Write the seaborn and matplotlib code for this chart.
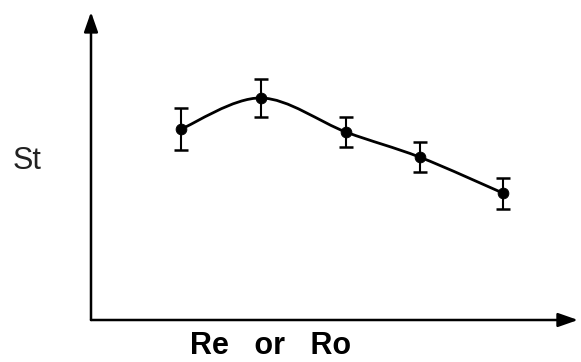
import numpy as np
import pandas as pd
import seaborn as sns
import matplotlib.pyplot as plt
from matplotlib.path import Path
from matplotlib.patches import PathPatch

# values (arbitrary units, axes run 0..10)
re_or_ro = [1.85, 3.49, 5.24, 6.75, 8.46]
st = [6.26, 7.28, 6.16, 5.34, 4.16]
st_err = [0.70, 0.61, 0.49, 0.49, 0.51]


def smooth_path(xs, ys):
    # Catmull-Rom through the points, drawn as cubic Bezier segments
    pts = np.column_stack([xs, ys])
    padded = np.vstack([pts[0], pts, pts[-1]])
    verts = [pts[0]]
    codes = [Path.MOVETO]
    for i in range(1, len(padded) - 2):
        p0, p1, p2, p3 = padded[i - 1], padded[i], padded[i + 1], padded[i + 2]
        verts += [p1 + (p2 - p0) / 6, p2 - (p3 - p1) / 6, p2]
        codes += [Path.CURVE4] * 3
    return Path(verts, codes)


def plot_st_chart():
    sns.set_theme(style="white")
    plt.rcParams['font.family'] = ['Liberation Sans', 'DejaVu Sans']

    df = pd.DataFrame({'x': re_or_ro, 'St': st, 'err': st_err})

    fig = plt.figure(figsize=(5.81, 3.62), dpi=100)
    ax = fig.add_axes([91 / 581, 42 / 362, 487 / 581, 305 / 362])

    ax.add_patch(PathPatch(smooth_path(df['x'], df['St']), fill=False,
                           edgecolor='black', lw=2.0))
    ax.errorbar(df['x'], df['St'], yerr=df['err'], fmt='none',
                ecolor='black', elinewidth=1.5, capsize=5, capthick=1.8)
    sns.scatterplot(data=df, x='x', y='St', ax=ax, color='black', s=60,
                    edgecolor='black', zorder=5)

    ax.set_xlim(0, 10)
    ax.set_ylim(0, 10)
    for s in ax.spines.values():
        s.set_visible(False)
    ax.set_xticks([])
    ax.set_yticks([])
    ax.set_xlabel('')
    ax.set_ylabel('')

    # axis arrows
    arrow = dict(arrowstyle='-|>,head_length=1.0,head_width=0.35',
                 color='black', lw=1.8, shrinkA=0, shrinkB=0)
    ax.annotate('', xy=(0, 1.01), xytext=(0, 0), xycoords='axes fraction',
                arrowprops=arrow, annotation_clip=False)
    ax.annotate('', xy=(1, 0), xytext=(0, 0), xycoords='axes fraction',
                arrowprops=arrow, annotation_clip=False)

    fig.text(27 / 581, 1 - 161 / 362, 'St', fontsize=22, color='#222222',
             ha='center', va='center')
    fig.text(271 / 581, 1 - 346 / 362, 'Re   or   Ro', fontsize=22,
             fontweight='bold', color='black', ha='center', va='center')

    fig.savefig('out.png', dpi=100)


if __name__ == "__main__":
    plot_st_chart()
